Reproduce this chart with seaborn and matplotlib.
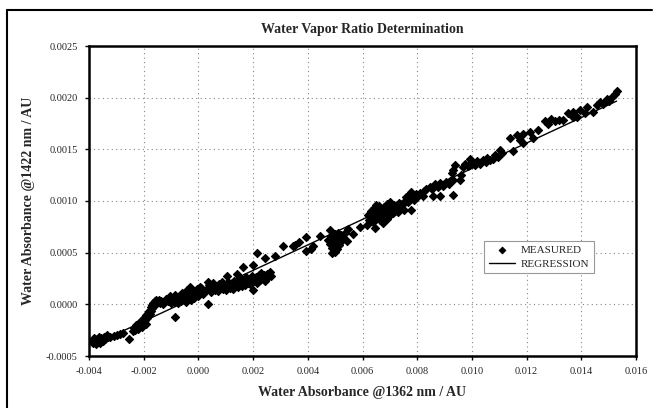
import numpy as np
import pandas as pd
import seaborn as sns
import matplotlib.pyplot as plt
from matplotlib.ticker import MultipleLocator, FormatStrFormatter
from matplotlib.lines import Line2D

# measured points
# x in units of 1e-3 AU (1362 nm), y in units of 1e-4 AU (1422 nm)
x_meas = [
    # low end
    -3.90, -3.85, -3.82, -3.78, -3.75, -3.72, -3.68, -3.65, -3.62, -3.58,
    -3.55, -3.50, -3.45, -3.40, -3.35, -3.30, -3.23, -3.10, -2.99, -2.85,
    -2.74, -2.53,
    # steep group around -0.002
    -2.40, -2.35, -2.30, -2.28, -2.25, -2.20, -2.18, -2.15, -2.10, -2.08,
    -2.05, -2.02, -2.00, -1.97, -1.95, -1.92, -1.90, -1.88, -1.85, -1.83,
    -1.80, -1.78, -1.75, -1.72, -1.70, -1.68, -1.65, -1.62, -1.60, -1.57,
    -1.55, -1.50, -1.45, -1.40, -1.35, -1.30, -1.25, -0.86,
    # around zero
    -1.20, -1.10, -1.05, -1.00, -0.95, -0.90, -0.85, -0.80, -0.75, -0.70,
    -0.65, -0.60, -0.55, -0.50, -0.45, -0.43, -0.40, -0.35, -0.31, -0.28,
    -0.25, -0.20, -0.15, -0.10, -0.05, 0.00, 0.05, 0.10, 0.17, 0.06, 0.35, 0.36,
    # band 0.000 - 0.0027
    0.30, 0.40, 0.45, 0.50, 0.55, 0.60, 0.65, 0.70, 0.75, 0.80,
    0.85, 0.90, 0.95, 1.00, 1.03, 1.05, 1.10, 1.15, 1.20, 1.25,
    1.30, 1.35, 1.40, 1.45, 1.50, 1.55, 1.60, 1.64, 1.65, 1.70,
    1.75, 1.80, 1.85, 1.90, 1.95, 2.01, 2.01, 2.05, 2.10, 2.13,
    2.15, 2.20, 2.25, 2.30, 2.35, 2.40, 2.43, 2.45, 2.50, 2.55,
    2.60, 2.65,
    2.80, 3.10, 3.47, 3.53, 3.68, 3.93, 3.93, 4.10, 4.20, 4.45, 4.81,
    # group around 0.005
    4.75, 4.80, 4.85, 4.87, 4.90, 4.92, 4.95, 4.98, 5.00, 5.03,
    5.05, 5.08, 5.10, 5.13, 5.15, 5.18, 5.22, 5.25, 5.30, 5.36,
    4.90, 5.00, 4.95,
    5.44, 5.48, 5.66, 5.90, 6.15, 6.46,
    # group around 0.007
    6.20, 6.25, 6.30, 6.35, 6.40, 6.42, 6.45, 6.50, 6.55, 6.60,
    6.62, 6.65, 6.70, 6.76, 6.75, 6.80, 6.85, 6.88, 6.90, 6.95,
    7.00, 7.05, 7.10, 7.15, 7.20, 7.25, 7.30, 7.35, 7.40, 7.45,
    7.50, 6.50, 7.00, 7.79,
    # 0.0075 - 0.0095
    7.55, 7.60, 7.65, 7.70, 7.75, 7.79, 7.85, 7.90, 7.95, 8.00,
    8.10, 8.20, 8.25, 8.34, 8.45, 8.55, 8.59, 8.65, 8.75, 8.83,
    8.85, 8.95, 9.05, 9.15, 9.20, 9.32, 9.26, 9.32, 9.38, 9.30,
    # 0.0095 - 0.0125
    9.60, 9.57, 9.67, 9.75, 9.85, 9.93, 10.00, 10.10, 10.20, 10.30,
    10.40, 10.50, 10.56, 10.65, 10.78, 10.85, 10.95, 11.02, 11.10, 11.51,
    11.39, 11.64, 11.76, 11.88, 12.12, 11.88, 12.25, 12.43,
    # high end
    12.67, 12.80, 12.90, 13.05, 13.20, 13.34, 13.52, 13.71, 13.83, 13.95,
    14.13, 14.20, 14.44, 14.56, 14.68, 14.80, 14.93, 15.11, 15.23, 15.29,
    13.71, 15.00,
]
y_meas = [
    -3.5, -3.7, -3.3, -3.6, -3.8, -3.4, -3.6, -3.2, -3.5, -3.7,
    -3.3, -3.5, -3.2, -3.4, -3.0, -3.2, -3.2, -3.1, -3.0, -2.9,
    -2.8, -3.4,
    -2.6, -2.3, -2.5, -2.0, -2.2, -2.4, -1.8, -2.1, -1.6, -1.9,
    -2.2, -1.4, -1.7, -1.2, -1.5, -1.9, -1.0, -1.3, -0.8, -1.1,
    -0.6, -0.9, -0.3, -0.6, -0.1, -0.4, 0.1, -0.2, 0.3, 0.0,
    0.4, 0.2, 0.4, 0.1, 0.3, 0.0, 0.2, -1.2,
    0.5, 0.3, 0.8, 0.1, 0.6, 0.2, 0.9, 0.4, 0.1, 0.7,
    0.3, 1.1, 0.5, 0.9, 0.2, 1.4, 0.7, 1.1, 1.7, 0.4,
    0.9, 1.3, 0.6, 1.0, 1.5, 0.8, 1.2, 1.6, 1.0, 1.7, 2.2, 0.0,
    1.5, 1.9, 1.2, 1.7, 2.1, 1.4, 1.8, 1.3, 2.0, 1.6,
    2.2, 1.5, 1.9, 1.4, 2.7, 1.8, 2.2, 1.6, 2.0, 1.5,
    2.3, 1.9, 2.9, 1.7, 2.1, 2.5, 1.8, 3.6, 2.2, 1.9,
    2.6, 2.1, 2.4, 2.0, 2.7, 3.8, 1.4, 2.3, 2.6, 5.0,
    2.1, 2.8, 2.4, 3.0, 2.5, 2.8, 4.5, 2.3, 2.9, 2.6,
    3.1, 2.7,
    4.7, 5.6, 5.6, 5.7, 6.0, 6.5, 5.2, 5.4, 5.6, 6.6, 7.2,
    6.2, 5.8, 6.6, 5.0, 5.5, 6.3, 5.2, 6.8, 5.9, 6.5,
    5.4, 6.1, 6.9, 5.7, 6.4, 6.0, 6.7, 6.2, 6.5, 6.9,
    6.0, 5.1, 5.6,
    6.1, 7.3, 6.8, 7.5, 7.7, 7.4,
    8.6, 8.2, 9.0, 8.5, 8.0, 9.3, 8.8, 8.3, 9.1, 8.7,
    9.5, 8.2, 9.0, 7.9, 8.6, 9.4, 8.9, 8.3, 9.7, 9.1,
    8.6, 9.3, 8.8, 9.6, 9.0, 9.4, 8.9, 9.8, 9.3, 9.6,
    9.1, 9.6, 9.9, 9.1,
    10.0, 10.4, 9.9, 10.6, 10.2, 10.9, 10.5, 10.1, 10.7, 10.4,
    10.8, 10.5, 11.0, 11.2, 11.4, 11.2, 10.5, 11.6, 11.4, 10.5,
    11.7, 11.5, 11.8, 11.6, 11.9, 10.6, 12.7, 13.0, 13.5, 12.0,
    12.5, 12.0, 13.3, 13.6, 13.4, 14.1, 13.7, 13.5, 13.9, 13.6,
    14.0, 13.8, 14.2, 14.0, 14.1, 14.5, 14.3, 14.9, 14.6, 14.8,
    16.1, 16.4, 15.9, 16.5, 16.7, 15.6, 16.1, 16.9,
    17.7, 17.5, 17.9, 17.7, 17.8, 17.8, 18.5, 18.6, 18.1, 18.8,
    18.5, 19.1, 18.6, 19.3, 19.6, 19.4, 19.9, 20.1, 20.4, 20.6,
    18.1, 19.7,
]

df = pd.DataFrame({'x': np.array(x_meas) * 1e-3,
                   'y': np.array(y_meas) * 1e-4})

# least squares line over the measured range
slope, icpt = np.polyfit(df['x'], df['y'], 1)
df_fit = pd.DataFrame({'x': [df['x'].min(), df['x'].max()]})
df_fit['y'] = slope * df_fit['x'] + icpt

sns.set_style('ticks')
plt.rcParams['font.family'] = ['Liberation Serif', 'DejaVu Serif']

fig = plt.figure(figsize=(6.6, 4.08), dpi=100)
ax = fig.add_axes([89 / 660, 1 - 356 / 408, 547 / 660, 310 / 408])

sns.scatterplot(data=df, x='x', y='y', ax=ax, marker='D', s=17,
                color='black', edgecolor='black', linewidth=0.8,
                label='MEASURED', zorder=3)
sns.lineplot(data=df_fit, x='x', y='y', ax=ax, color='black', lw=1.0,
             label='REGRESSION', zorder=4)

ax.set_xlim(-0.004, 0.016)
ax.set_ylim(-0.0005, 0.0025)
ax.xaxis.set_major_locator(MultipleLocator(0.002))
ax.yaxis.set_major_locator(MultipleLocator(0.0005))
ax.xaxis.set_major_formatter(FormatStrFormatter('%.3f'))
ax.yaxis.set_major_formatter(FormatStrFormatter('%.4f'))
ax.grid(True, color='#888888', linestyle=(0, (1, 3)), linewidth=0.8)
ax.tick_params(axis='both', labelsize=7.5, length=3, width=1, pad=5,
               direction='out', color='black')
for sp in ax.spines.values():
    sp.set_linewidth(1.8)
    sp.set_color('black')

ax.set_title('Water Vapor Ratio Determination', fontsize=10,
             fontweight='bold', pad=9)
ax.set_xlabel('Water Absorbance @1362 nm / AU', fontsize=10,
              fontweight='bold', labelpad=7)
ax.set_ylabel('Water Absorbance @1422 nm / AU', fontsize=10,
              fontweight='bold', labelpad=8)

leg = ax.legend(loc='center', bbox_to_anchor=(0.823, 0.319), fontsize=8,
                frameon=True, fancybox=False, handlelength=2.4,
                borderpad=0.4, labelspacing=0.35, handletextpad=0.5,
                markerscale=0.8)
leg.get_frame().set_edgecolor('#999999')
leg.get_frame().set_linewidth(0.8)
leg.get_frame().set_facecolor('white')
leg.get_frame().set_alpha(1)

# chart area border (left and top)
fig.add_artist(Line2D([7 / 660, 7 / 660], [0, 1 - 10 / 408],
                      color='black', lw=1.5))
fig.add_artist(Line2D([7 / 660, 652 / 660], [1 - 10 / 408, 1 - 10 / 408],
                      color='black', lw=1.5))

fig.savefig('out.png', dpi=100)
